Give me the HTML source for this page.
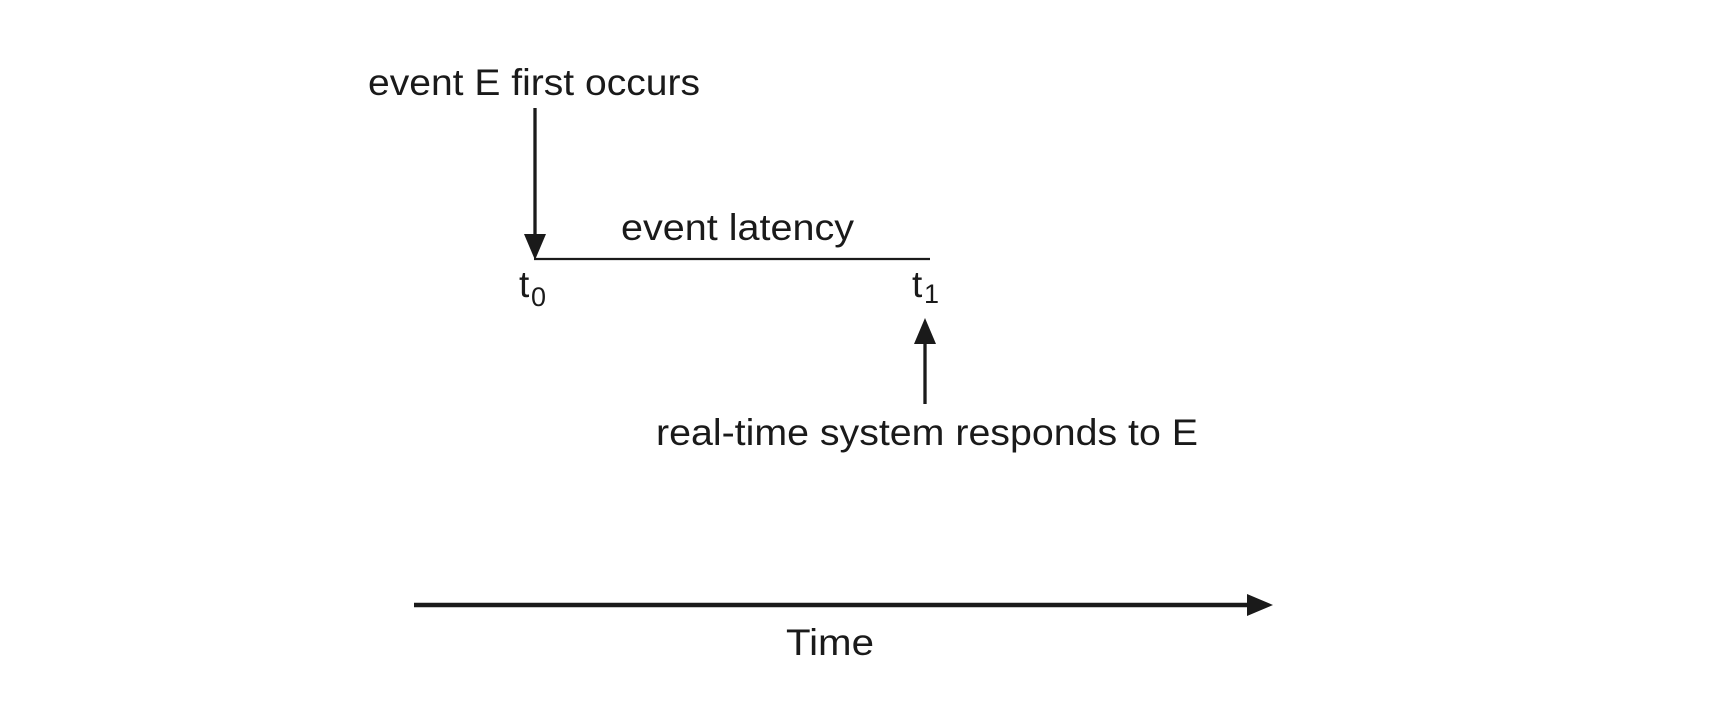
<!DOCTYPE html>
<html><head><meta charset="utf-8"><style>
html,body{margin:0;padding:0;background:#fff;}
svg{display:block;}
text{font-family:"Liberation Sans",Arial,sans-serif;fill:#1a1a1a;}
</style></head><body>
<svg width="1720" height="706" viewBox="0 0 1720 706" xmlns="http://www.w3.org/2000/svg">
<g transform="translate(-4,-3)">
<text x="372" y="98" font-size="37" textLength="332" lengthAdjust="spacingAndGlyphs">event E first occurs</text>
<text x="625" y="243" font-size="37" textLength="233" lengthAdjust="spacingAndGlyphs">event latency</text>
<text x="523" y="300" font-size="37">t</text>
<text x="535" y="309" font-size="27">0</text>
<text x="916" y="300" font-size="37">t</text>
<text x="928" y="306" font-size="27">1</text>
<text x="660" y="448" font-size="37" textLength="542" lengthAdjust="spacingAndGlyphs">real-time system responds to E</text>
<text x="790" y="658" font-size="37" textLength="88" lengthAdjust="spacingAndGlyphs">Time</text>
</g>
<g transform="translate(-2,-1)">
<line x1="537" y1="109" x2="537" y2="238" stroke="#1a1a1a" stroke-width="3.3"/>
<polygon points="526,235 548,235 537,261" fill="#1a1a1a"/>
<line x1="536" y1="260" x2="932" y2="260" stroke="#1a1a1a" stroke-width="2.2"/>
<polygon points="916,345 938,345 927,319" fill="#1a1a1a"/>
<line x1="927" y1="342" x2="927" y2="405" stroke="#1a1a1a" stroke-width="3.3"/>
</g>
<g transform="translate(-4,-3)">
<line x1="418" y1="608" x2="1255" y2="608" stroke="#1a1a1a" stroke-width="4.4"/>
<polygon points="1251,597 1277,608 1251,619" fill="#1a1a1a"/>
</g>
</svg>
</body></html>
